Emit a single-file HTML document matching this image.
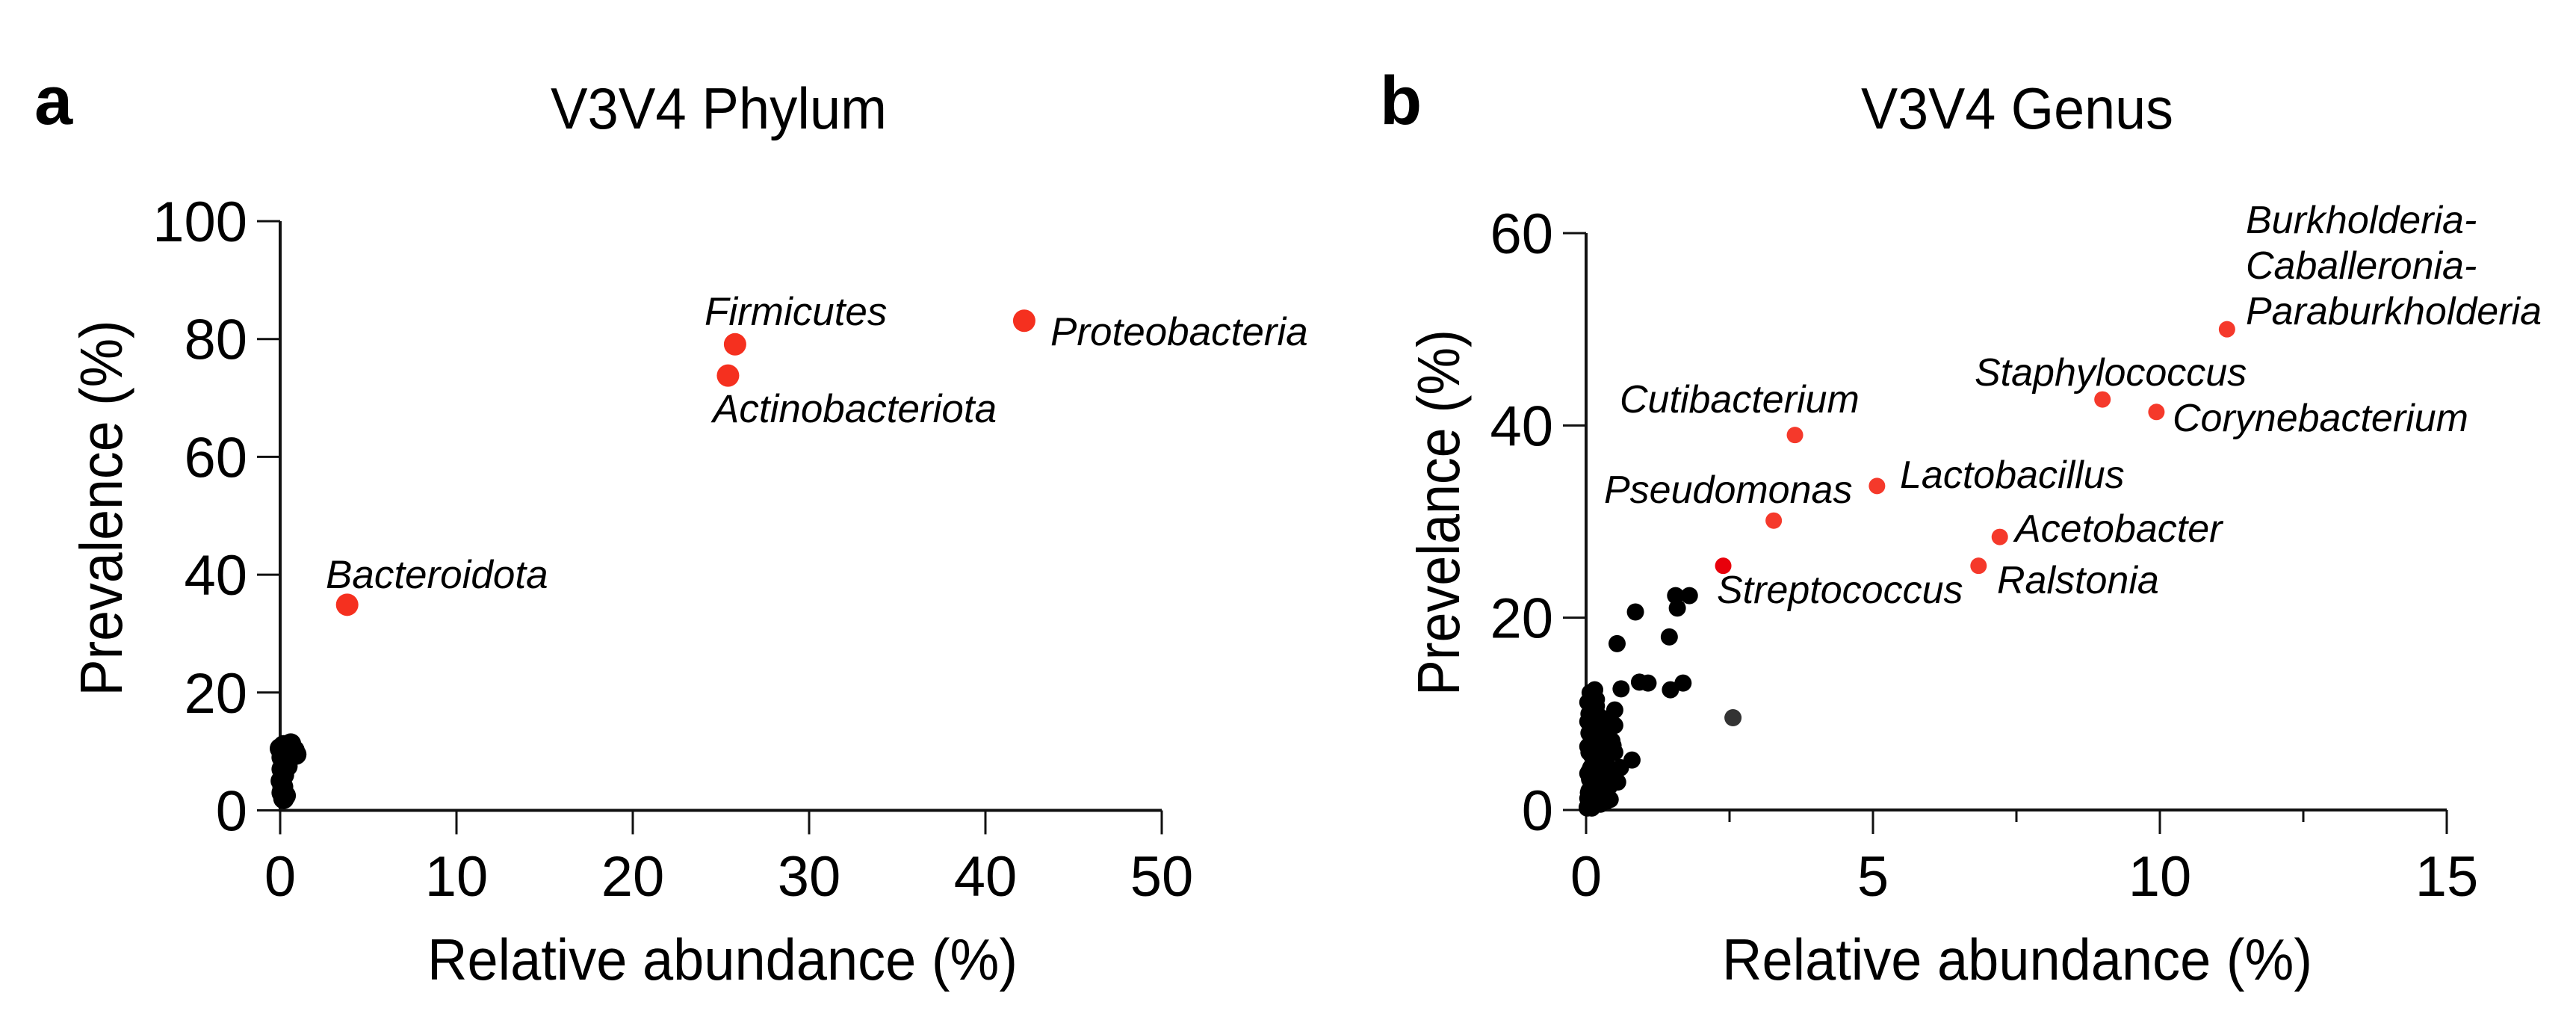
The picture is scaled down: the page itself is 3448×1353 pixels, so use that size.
<!DOCTYPE html>
<html><head><meta charset="utf-8"><style>
html,body{margin:0;padding:0;background:#fff;}
svg{display:block;font-family:"Liberation Sans",Arial,sans-serif;}
</style></head><body>
<svg id="fig" width="3448" height="1353" viewBox="0 0 3448 1353" xmlns="http://www.w3.org/2000/svg">
<rect width="3448" height="1353" fill="#fff"/>
<g id="pa"></g>
<g id="pb"></g>
</svg>
<script>
// Panel a data
const aRedX = [25.8, 25.4, 42.2, 3.8];
const aRedY = [79.1, 73.8, 83.1, 34.9];
const aRedLabels = ["Firmicutes", "Actinobacteriota", "Proteobacteria", "Bacteroidota"];
const aBlackX = [0.2,0.6,0.8,0.9,0.1,0.3,0.5,0.7,0.1,0.2,0.05,0.1,0.2,0.3,0.15,0.4,0.0,0.25];
const aBlackY = [11,11.3,10.2,9.5,9,8,9,9.4,7,6,5,3,2,2.5,4,7.5,10.5,10.8];
const aXTicks = [0,10,20,30,40,50];
const aYTicks = [0,20,40,60,80,100];
// Panel b data
const bRedX = [11.17, 9.0, 9.94, 3.64, 5.07, 3.27, 7.21, 6.84, 2.39];
const bRedY = [50.0, 42.7, 41.4, 39.0, 33.7, 30.1, 28.4, 25.4, 25.4];
const bRedLabels = ["Burkholderia-|Caballeronia-|Paraburkholderia","Staphylococcus","Corynebacterium","Cutibacterium","Lactobacillus","Pseudomonas","Acetobacter","Ralstonia","Streptococcus"];
const bBlackX = [0.86,0.54,1.45,1.56,1.80,1.59,0.93,1.08,1.47,1.69,0.61,0.15,0.18,0.5,0.5,0.47,0.8,0.6,0.55,0.42,
 0.05,0.1,0.15,0.2,0.25,0.3,0.35,0.05,0.1,0.15,0.2,0.25,0.3,0.05,0.1,0.15,0.2,0.25,0.05,0.1,0.15,0.2,0.3,0.35,0.4,
 0.05,0.1,0.2,0.3,0.05,0.12,0.22,0.32,0.45,0.08,0.18,0.28,0.38,0.02,0.04,0.06,0.08,0.12,0.16,0.22,0.02,0.05,0.1,
 0.03,0.08,0.13,0.18,0.23,0.28,0.33,0.03,0.08,0.13,0.18,0.23,0.28,0.03,0.08,0.13,0.18,0.23,0.03,0.08,0.13,0.18,0.03,0.08,0.13,0.18,
 0.36,0.4,0.3,0.26,0.12,0.07,0.16,0.22,0.27,0.35,0.44,0.5];
const bBlackY = [20.6,17.3,18.0,22.3,22.3,21.0,13.3,13.2,12.5,13.2,12.6,12.5,9.6,10.4,8.8,6.7,5.2,4.4,2.9,1.1,
 0.5,0.8,1.0,1.2,0.6,1.5,0.9,2,2.5,3,2.2,3.5,2.8,4,4.5,5,5.5,4.2,6,6.5,7,7.5,6.2,5,3.8,
 8,8.5,9,9.5,10,10.5,9.8,8.2,7.2,11,11.5,7.8,6.8,0.2,1.8,3.2,5.8,7.2,8.8,1.5,0.3,0.4,0.2,
 1.2,1.6,2.0,2.6,3.0,3.4,2.2,3.8,4.4,4.8,5.2,5.8,6.0,6.6,7.0,7.6,8.2,8.6,9.2,9.6,10.2,10.8,11.2,11.6,12.0,7.4,
 1.0,2.4,4.4,6.6,0.6,12.2,11.0,1.8,0.8,4.2,3.4,6.0];
const bXTicks = [0,5,10,15];
const bXMinor = [2.5,7.5,12.5];
const bYTicks = [0,20,40,60];
const bGrey = [2.56, 9.6];

const NS="http://www.w3.org/2000/svg";
function mk(parent, tag, attrs){const e=document.createElementNS(NS,tag);for(const k in attrs)e.setAttribute(k,attrs[k]);parent.appendChild(e);return e;}

// scales
const ax = v => 375 + v*23.6;
const ay = v => 1084.5 - v*7.885;
const bx = v => 2123 + v*76.8;
const by = v => 1084 - v*12.867;

function axes(g, x0, x1, y0, y1, xt, yt, xs, ys, minor){
  let l=mk(g,'line',{x1:x0,y1:y0,x2:x1,y2:y0,stroke:'#111','stroke-width':4});
  
  
  l=mk(g,'line',{x1:x0,y1:y0+2,x2:x0,y2:y1,stroke:'#111','stroke-width':4});
  
  
  xt.forEach(v=>{
    const t=mk(g,'line',{x1:xs(v),y1:y0,x2:xs(v),y2:y0+32,stroke:'#111','stroke-width':3});
    
    
    const tx=mk(g,'text',{x:xs(v),y:1199,'font-size':76,'text-anchor':'middle',fill:'#000'});
    tx.textContent=v;
    
    
  });
  (minor||[]).forEach(v=>{
    const t=mk(g,'line',{x1:xs(v),y1:y0,x2:xs(v),y2:y0+16,stroke:'#111','stroke-width':3});
    
    
  });
  yt.forEach(v=>{
    const t=mk(g,'line',{x1:x0-31,y1:ys(v),x2:x0,y2:ys(v),stroke:'#111','stroke-width':3});
    
    
    const tx=mk(g,'text',{x:x0-44,y:ys(v)+27,'font-size':76,'text-anchor':'end',fill:'#000'});
    tx.textContent=v;
    
    
  });
}

const pa=document.getElementById('pa'), pb=document.getElementById('pb');

// Panel a
let t=mk(pa,'text',{x:46,y:166,'font-size':92,'font-weight':'bold'});t.textContent='a';


t=mk(pa,'text',{x:737,y:172,'font-size':78,textLength:450,lengthAdjust:'spacingAndGlyphs'});t.textContent='V3V4 Phylum';


axes(pa,375,1555,1084.5,296,aXTicks,aYTicks,ax,ay);
t=mk(pa,'text',{x:967,y:1311,'font-size':78,'text-anchor':'middle',textLength:790,lengthAdjust:'spacingAndGlyphs'});t.textContent='Relative abundance (%)';


t=mk(pa,'text',{x:0,y:0,'font-size':80,'text-anchor':'middle',textLength:503,lengthAdjust:'spacingAndGlyphs',transform:'translate(163,680) rotate(-90)'});t.textContent='Prevalence (%)';


aBlackX.forEach((v,i)=>{
  const c=mk(pa,'circle',{cx:ax(v),cy:ay(aBlackY[i]),r:14,fill:'#000'});
  
  
});
const aLab=[[943,435],[954,565],[1406,462],[436,787]];
aRedX.forEach((v,i)=>{
  const c=mk(pa,'circle',{cx:ax(v),cy:ay(aRedY[i]),r:15,fill:'#f5301f'});
  
  
  const tx=mk(pa,'text',{x:aLab[i][0],y:aLab[i][1],'font-size':53,'font-style':'italic'});
  tx.textContent=aRedLabels[i];
  
  
});

// Panel b
t=mk(pb,'text',{x:1847,y:166,'font-size':92,'font-weight':'bold'});t.textContent='b';


t=mk(pb,'text',{x:2491,y:172,'font-size':78,textLength:418,lengthAdjust:'spacingAndGlyphs'});t.textContent='V3V4 Genus';


axes(pb,2123,3275,1084,312,bXTicks,bYTicks,bx,by,bXMinor);
t=mk(pb,'text',{x:2700,y:1311,'font-size':78,'text-anchor':'middle',textLength:790,lengthAdjust:'spacingAndGlyphs'});t.textContent='Relative abundance (%)';


t=mk(pb,'text',{x:0,y:0,'font-size':80,'text-anchor':'middle',textLength:490,lengthAdjust:'spacingAndGlyphs',transform:'translate(1953,686) rotate(-90)'});t.textContent='Prevelance (%)';


bBlackX.forEach((v,i)=>{
  const c=mk(pb,'circle',{cx:bx(v),cy:by(bBlackY[i]),r:11.5,fill:'#000'});
  
  
});
t=mk(pb,'circle',{cx:bx(bGrey[0]),cy:by(bGrey[1]),r:11.5,fill:'#333'});


const bLab=[[3006,312],[2643,516],[2908,577],[2168,552],[2543,653],[2147,673],[2697,725],[2673,794],[2298,807]];
bRedX.forEach((v,i)=>{
  const c=mk(pb,'circle',{cx:bx(v),cy:by(bRedY[i]),r:11,fill:i===8?'#e8000b':'#f5392b'});
  
  
  const parts=bRedLabels[i].split('|');
  parts.forEach((p,j)=>{
    const tx=mk(pb,'text',{x:bLab[i][0],y:bLab[i][1]+j*61,'font-size':52,'font-style':'italic'});
    tx.textContent=p;
    
    
  });
});
</script>
</body></html>
